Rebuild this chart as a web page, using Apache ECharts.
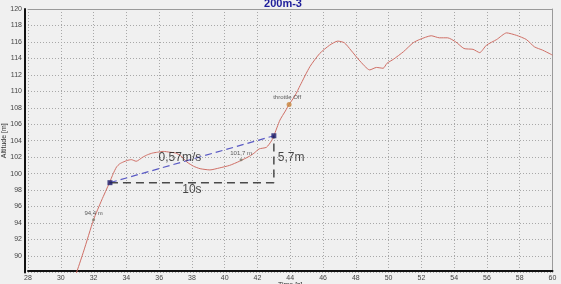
<!DOCTYPE html>
<html>
<head>
<meta charset="utf-8">
<script src="https://cdn.jsdelivr.net/npm/echarts@6/dist/echarts.min.js"></script>
<style>
html,body{margin:0;padding:0;background:#f0f0f0;}
#c{width:561px;height:284px;}
</style>
</head>
<body>
<div id="c"></div>
<script>
const titleText = '200m-3';
const xName = 'Time [s]';
const yName = 'Altitude [m]';

const time = [30.9,31.0,31.4,32.0,32.5,32.96,33.2,33.4,33.6,33.8,34.05,34.3,34.6,35.0,35.3,35.6,35.9,36.25,36.66,37.0,37.3,37.7,38.1,38.5,39.1,39.7,40.3,40.9,41.5,41.8,42.1,42.55,42.86,43.0,43.37,43.7,43.93,44.3,44.6,45.2,45.8,46.4,46.9,47.3,47.7,48.2,48.85,49.26,49.67,49.9,50.3,50.9,51.5,51.9,52.6,53.1,53.6,54.1,54.6,55.15,55.56,55.97,56.6,57.2,57.8,58.4,58.9,59.4,59.9,60.0];
const altitude = [87.6,88.2,90.6,94.4,96.8,98.85,100.0,100.8,101.2,101.4,101.6,101.7,101.5,102.0,102.3,102.5,102.6,102.7,102.6,102.5,102.2,101.4,100.9,100.6,100.45,100.7,101.0,101.5,102.1,102.5,103.0,103.2,104.0,104.6,106.5,107.6,108.4,109.5,110.7,113.0,114.6,115.6,116.1,115.9,115.0,113.8,112.6,112.9,112.8,113.4,113.9,114.8,115.9,116.3,116.75,116.5,116.5,116.0,115.2,115.1,114.7,115.6,116.3,117.1,116.8,116.3,115.4,115.0,114.5,114.4];

// measurement points
const segT = [33, 43];
const segAlt = [98.9, 104.6];
// small value points
const valT = [32, 41];
const valAlt = [94.4, 101.7];
const valLabels = ['94,4 m', '101,7 m'];
// throttle off
const throttleT = [43.93];
const throttleAlt = [108.4];
const throttleLabels = ['throttle Off'];
// annotation texts
const noteT = [37.27, 38.0, 44.05];
const noteAlt = [101.9, 98.1, 101.95];
const noteLabels = ['0,57m/s', '10s', '5,7m'];

const xTicks = {min: 28, max: 60, interval: 2};
const yTicks = {min: 88, max: 120, interval: 2};

const curve = time.map((t, i) => [t, altitude[i]]);
const slope = segT.map((t, i) => [t, segAlt[i]]);
const rightAngle = [[segT[0], segAlt[0]], [segT[1], segAlt[0]], [segT[1], segAlt[1]]];
const vals = valT.map((t, i) => ({value: [t, valAlt[i]], name: valLabels[i]}));
const thr = throttleT.map((t, i) => ({value: [t, throttleAlt[i]], name: throttleLabels[i]}));
const notes = noteT.map((t, i) => ({value: [t, noteAlt[i]], name: noteLabels[i]}));

const font = 'Arial, "Liberation Sans", sans-serif';
const chart = echarts.init(document.getElementById('c'), null, {renderer: 'canvas'});
chart.setOption({
  backgroundColor: '#f0f0f0',
  animation: false,
  title: {
    text: titleText, left: 278, top: -7, textAlign: 'center',
    textStyle: {fontFamily: font, fontSize: 11, fontWeight: 'bold', color: '#1c1c9a'}
  },
  grid: {left: 28, right: 8.5, top: 9, bottom: 11.6, containLabel: false, outerBoundsMode: 'none'},
  xAxis: [{
    type: 'value', min: xTicks.min, max: xTicks.max, interval: xTicks.interval, offset: -2,
    name: xName, nameLocation: 'middle', nameGap: 11, nameMoveOverlap: false,
    nameTextStyle: {fontFamily: font, fontSize: 7, color: '#333', verticalAlign: 'top'},
    axisLine: {show: true, onZero: false, lineStyle: {color: '#111', width: 2}},
    axisTick: {show: false},
    axisLabel: {fontFamily: font, fontSize: 7, color: '#444', margin: 4},
    splitLine: {show: true, lineStyle: {color: '#a8a8a8', type: [1, 2], width: 1}}
  }, {
    type: 'value', position: 'top', min: xTicks.min, max: xTicks.max,
    axisLine: {show: true, onZero: false, lineStyle: {color: '#9a9a9a', width: 1}},
    axisTick: {show: false}, axisLabel: {show: false}, splitLine: {show: false}
  }],
  yAxis: [{
    type: 'value', min: yTicks.min, max: yTicks.max, interval: yTicks.interval, offset: 3,
    name: yName, nameLocation: 'middle', nameGap: 17, nameRotate: 90, nameMoveOverlap: false,
    nameTextStyle: {fontFamily: font, fontSize: 7, color: '#333'},
    axisLine: {show: true, onZero: false, lineStyle: {color: '#111', width: 2}},
    axisTick: {show: false},
    axisLabel: {fontFamily: font, fontSize: 7, color: '#444', margin: 3, showMinLabel: false},
    splitLine: {show: true, lineStyle: {color: '#a8a8a8', type: [1, 2], width: 1}}
  }, {
    type: 'value', position: 'right', min: yTicks.min, max: yTicks.max,
    axisLine: {show: true, onZero: false, lineStyle: {color: '#9a9a9a', width: 1}},
    axisTick: {show: false}, axisLabel: {show: false}, splitLine: {show: false}
  }],
  series: [{
    type: 'line', data: curve, showSymbol: false, smooth: 0.2, clip: true,
    lineStyle: {color: '#cf6f66', width: 1}, z: 3
  }, {
    type: 'line', data: slope, showSymbol: false,
    lineStyle: {color: '#5a5ac4', width: 1.2, type: [7, 4]}, z: 4
  }, {
    type: 'line', data: rightAngle, showSymbol: false,
    lineStyle: {color: '#4a4a4a', width: 1.5, type: [8, 5]}, z: 4
  }, {
    type: 'scatter', data: slope, symbol: 'rect', symbolSize: 5,
    itemStyle: {color: '#1a1a6a'}, z: 6
  }, {
    type: 'scatter', data: vals, symbol: 'circle', symbolSize: 3,
    itemStyle: {color: '#7a7a6a'}, z: 6,
    label: {show: true, position: 'top', distance: 2, formatter: '{b}',
      fontFamily: font, fontSize: 6, color: '#333'}
  }, {
    type: 'scatter', data: thr, symbol: 'circle', symbolSize: 5,
    itemStyle: {color: '#c8843c'}, z: 6,
    label: {show: true, position: 'top', distance: 2, offset: [-2, 0], formatter: '{b}',
      fontFamily: font, fontSize: 6, color: '#333'}
  }, {
    type: 'scatter', data: notes, symbolSize: 0, z: 7,
    label: {show: true, position: 'inside', formatter: '{b}',
      fontFamily: font, fontSize: 12, color: '#1a1a1a'}
  }]
});
</script>
</body>
</html>
